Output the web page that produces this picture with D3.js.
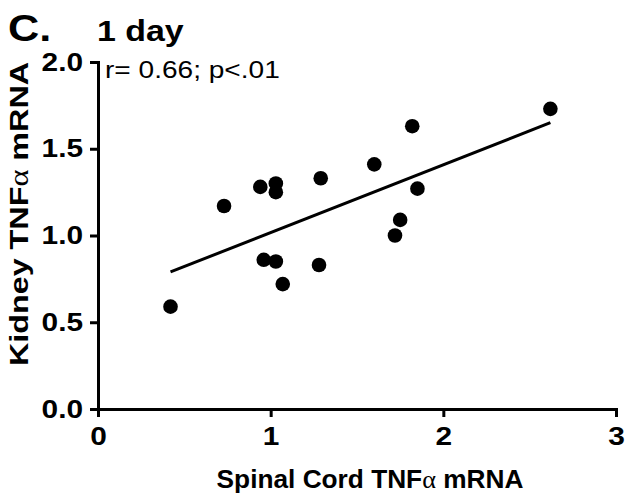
<!DOCTYPE html>
<html>
<head>
<meta charset="utf-8">
<script src="https://cdn.jsdelivr.net/npm/d3@7"></script>
<style>
  body { margin: 0; background: #fff; }
  text { font-family: "Liberation Sans", Arial, sans-serif; }
</style>
</head>
<body>
<script>
// data (spinal cord vs kidney TNFa mRNA, 1 day)
const spinalCord = [0.42, 0.73, 0.94, 1.03, 1.03, 1.29, 1.60, 1.82, 1.85, 1.75, 1.72, 2.62, 0.96, 1.03, 1.28, 1.07];
const kidney     = [0.59, 1.17, 1.28, 1.30, 1.25, 1.33, 1.41, 1.63, 1.27, 1.09, 1.00, 1.73, 0.86, 0.85, 0.83, 0.72];
// regression line end points
const fitX = [0.42, 2.62];
const fitY = [0.79, 1.65];
const xTicks = [0, 1, 2, 3];
const yTicks = [0, 0.5, 1.0, 1.5, 2.0];

const svgWidth = 627, svgHeight = 500;
const margin = { top: 62, right: 11, bottom: 91, left: 98 };
const width = svgWidth - margin.left - margin.right;
const height = svgHeight - margin.top - margin.bottom;
const stretch = 1.17; // the figure's font is a bit wider than Arial

const svg = d3.select('body').append('svg')
  .attr('width', svgWidth)
  .attr('height', svgHeight);

const x = d3.scaleLinear().domain([0, 3]).range([0, width]);
const y = d3.scaleLinear().domain([0, 2]).range([height, 0]);

const chart = svg.append('g')
  .attr('transform', `translate(${margin.left}, ${margin.top})`);

// x axis
const xAxis = chart.append('g')
  .attr('transform', `translate(0, ${height})`)
  .call(d3.axisBottom(x).tickValues(xTicks).tickFormat(d3.format('d')).tickSize(8).tickSizeOuter(0).tickPadding(10));

// y axis
const yAxis = chart.append('g')
  .call(d3.axisLeft(y).tickValues(yTicks).tickFormat(d3.format('.1f')).tickSize(8).tickSizeOuter(0));

[xAxis, yAxis].forEach(ax => {
  ax.select('.domain').attr('stroke', '#000').attr('stroke-width', 3).attr('stroke-linecap', 'square');
  ax.selectAll('.tick line').attr('stroke', '#000').attr('stroke-width', 3);
  ax.selectAll('.tick text')
    .attr('fill', '#000')
    .attr('transform', `scale(${stretch},1)`)
    .style('font-family', '"Liberation Sans", Arial, sans-serif')
    .style('font-weight', 'bold')
    .style('font-size', '25.5px');
});
yAxis.selectAll('.tick text').attr('x', -15 / stretch);

// regression line
chart.append('path')
  .datum(fitX.map((d, i) => [d, fitY[i]]))
  .attr('fill', 'none')
  .attr('stroke', '#000')
  .attr('stroke-width', 3)
  .attr('d', d3.line().x(d => x(d[0])).y(d => y(d[1])));

// points
chart.selectAll('circle.pt')
  .data(spinalCord)
  .enter().append('circle')
  .attr('class', 'pt')
  .attr('cx', d => x(d))
  .attr('cy', (d, i) => y(kidney[i]))
  .attr('r', 7.3)
  .attr('fill', '#000');

// titles (stretched horizontally like the figure)
function label(px, py, size, weight, str) {
  return svg.append('text')
    .attr('transform', `translate(${px}, ${py}) scale(${stretch},1)`)
    .style('font-size', size + 'px').style('font-weight', weight)
    .text(str);
}
label(8, 41, 37, 'bold', 'C.');
label(97, 41, 29, 'bold', '1 day');
label(105, 78, 24, 'normal', 'r= 0.66; p<.01');

// axis titles
const xTitle = svg.append('text')
  .attr('transform', `translate(370, 488) scale(1.05,1)`)
  .attr('text-anchor', 'middle')
  .style('font-size', '25px').style('font-weight', 'bold');
xTitle.append('tspan').text('Spinal Cord TNF');
xTitle.append('tspan').style('font-family', '"Liberation Serif", serif').style('font-weight', 'normal').text('α');
xTitle.append('tspan').text(' mRNA');

const yTitle = svg.append('text')
  .attr('transform', `translate(28, 214) rotate(-90) scale(1.22,1)`)
  .attr('text-anchor', 'middle')
  .style('font-size', '26.5px').style('font-weight', 'bold');
yTitle.append('tspan').text('Kidney TNF');
yTitle.append('tspan').style('font-family', '"Liberation Serif", serif').style('font-weight', 'normal').text('α');
yTitle.append('tspan').text(' mRNA');
</script>
</body>
</html>
